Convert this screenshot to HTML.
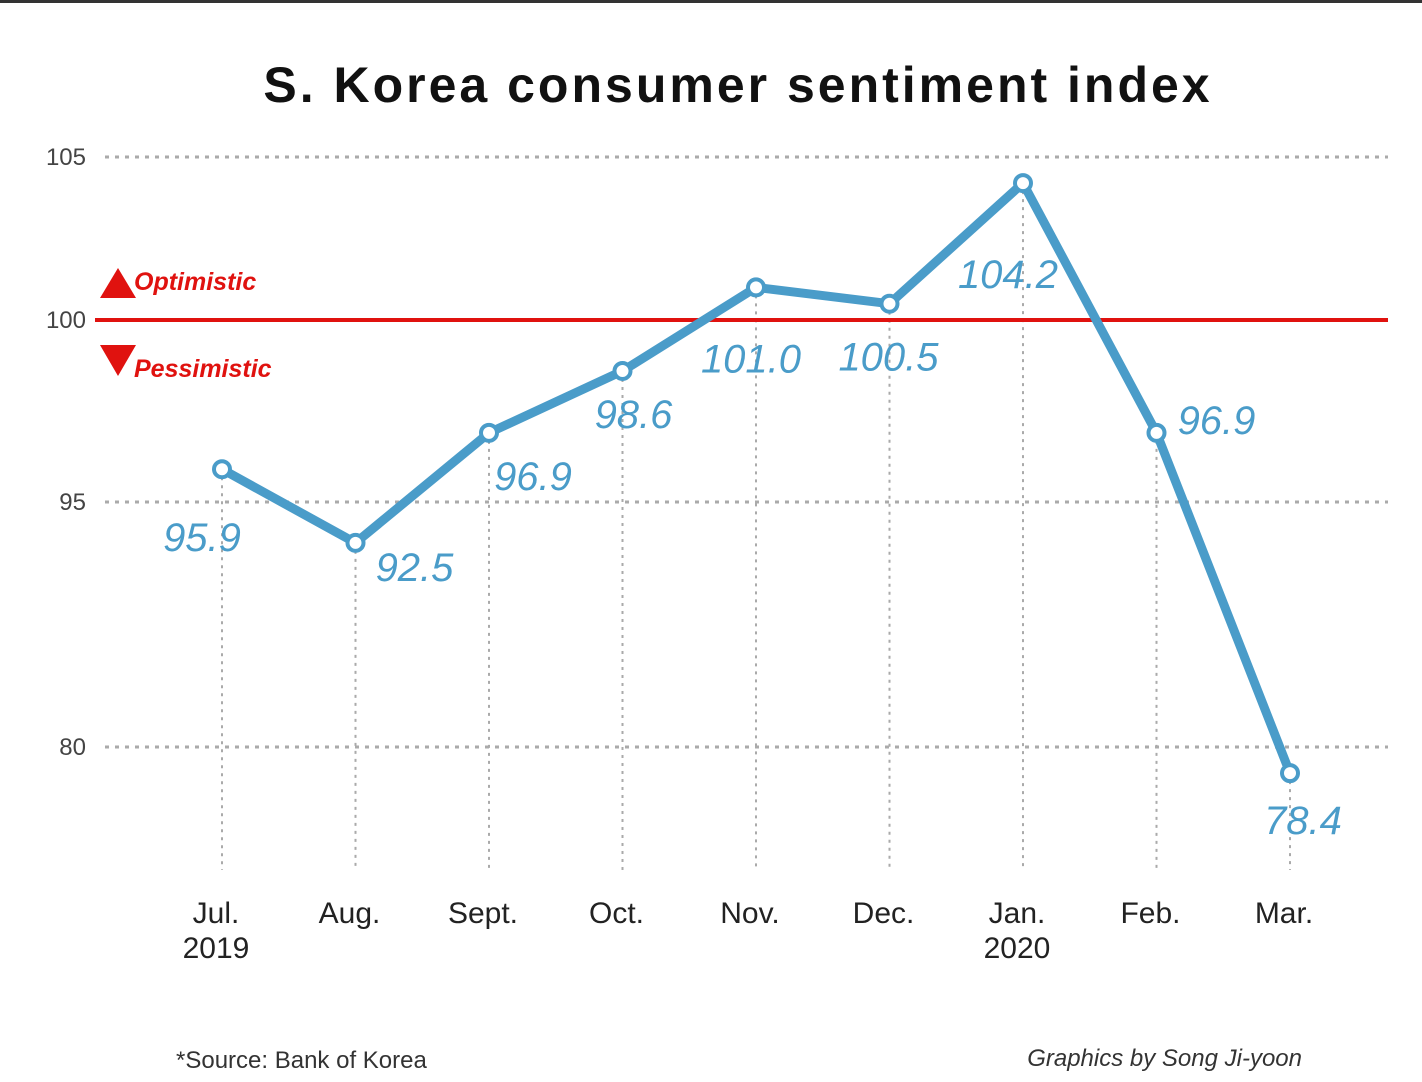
<!DOCTYPE html>
<html><head><meta charset="utf-8"><style>
body{margin:0;background:#fff;}
svg{display:block;font-family:"Liberation Sans",sans-serif;}
</style></head><body>
<svg id="chart" width="1422" height="1082" viewBox="0 0 1422 1082">
<rect x="0" y="0" width="1422" height="3" fill="#333"/>
<text x="738" y="102" text-anchor="middle" font-size="50" font-weight="bold" letter-spacing="3" fill="#111">S. Korea consumer sentiment index</text>
<g id="grid"></g>
<g id="ref">
<line x1="95" x2="1388" y1="320" y2="320" stroke="#e0120f" stroke-width="4"/>
<polygon points="100,298 136,298 118,268" fill="#e0120f"/>
<text x="134" y="290" font-size="25" font-weight="bold" font-style="italic" fill="#e0120f">Optimistic</text>
<polygon points="100,345 136,345 118,376" fill="#e0120f"/>
<text x="134" y="377" font-size="25" font-weight="bold" font-style="italic" fill="#e0120f">Pessimistic</text>
</g>
<g id="series"></g>
<text x="176" y="1068" font-size="24" fill="#333">*Source: Bank of Korea</text>
<text x="1302" y="1066" text-anchor="end" font-size="24" font-style="italic" fill="#333">Graphics by Song Ji-yoon</text>
</svg>
<script>
const categories=["Jul.","Aug.","Sept.","Oct.","Nov.","Dec.","Jan.","Feb.","Mar."];
const subLabels=["2019","","","","","","2020","",""];
const values=[95.9,92.5,96.9,98.6,101.0,100.5,104.2,96.9,78.4];
const valueLabels=["95.9","92.5","96.9","98.6","101.0","100.5","104.2","96.9","78.4"];
const yTicks=[105,100,95,80];
const labelDx=[-20,59,44,11,-5,-1,-15,60,13];
const labelDy=[68,24,43,43,71,53,91,-13,47];
const NS="http://www.w3.org/2000/svg";
const anchors=[[80,747],[95,502],[100,320],[105,157]];
function y(v){
  let a=anchors;
  if(v<=a[0][0]){return a[0][1]+(v-a[0][0])*(a[1][1]-a[0][1])/(a[1][0]-a[0][0]);}
  for(let i=0;i<a.length-1;i++){if(v<=a[i+1][0]||i==a.length-2){return a[i][1]+(v-a[i][0])*(a[i+1][1]-a[i][1])/(a[i+1][0]-a[i][0]);}}
}
function x(i){return 222+i*(1290-222)/(categories.length-1);}
function mk(t,at,p){const e=document.createElementNS(NS,t);for(const k in at)e.setAttribute(k,at[k]);p.appendChild(e);return e;}
const grid=document.getElementById('grid'),ser=document.getElementById('series');
yTicks.forEach(t=>{
  const l=mk('line',{x1:105,x2:1388,y1:y(t),y2:y(t),stroke:'#aaa','stroke-width':3,'stroke-dasharray':'4 6'},grid);
  
  
  const tx=mk('text',{x:86,y:y(t)+8,'text-anchor':'end','font-size':24,fill:'#444'},grid);tx.textContent=t;
  
  
});
categories.forEach((c,i)=>{
  const l=mk('line',{x1:x(i),x2:x(i),y1:y(values[i]),y2:870,stroke:'#aaa','stroke-width':2,'stroke-dasharray':'3 5'},grid);
  
  
  const t=mk('text',{x:x(i)-6,y:923,'text-anchor':'middle','font-size':30,fill:'#222'},grid);t.textContent=c;
  
  
  if(subLabels[i]){const s=mk('text',{x:x(i)-6,y:958,'text-anchor':'middle','font-size':30,fill:'#222'},grid);s.textContent=subLabels[i];
  
  }
});
const pts=values.map((v,i)=>x(i)+','+y(v)).join(' ');
const pl=mk('polyline',{points:pts,fill:'none',stroke:'#4a9cc9','stroke-width':9,'stroke-linejoin':'round'},ser);


values.forEach((v,i)=>{
  const c=mk('circle',{cx:x(i),cy:y(v),r:8,fill:'#fff',stroke:'#4a9cc9','stroke-width':4},ser);
  
  
  const t=mk('text',{x:x(i)+labelDx[i],y:y(v)+labelDy[i]+14,'text-anchor':'middle','font-size':40,'font-style':'italic',fill:'#4a9cc9'},ser);
  t.textContent=valueLabels[i];
  
  
});
</script>
</body></html>
